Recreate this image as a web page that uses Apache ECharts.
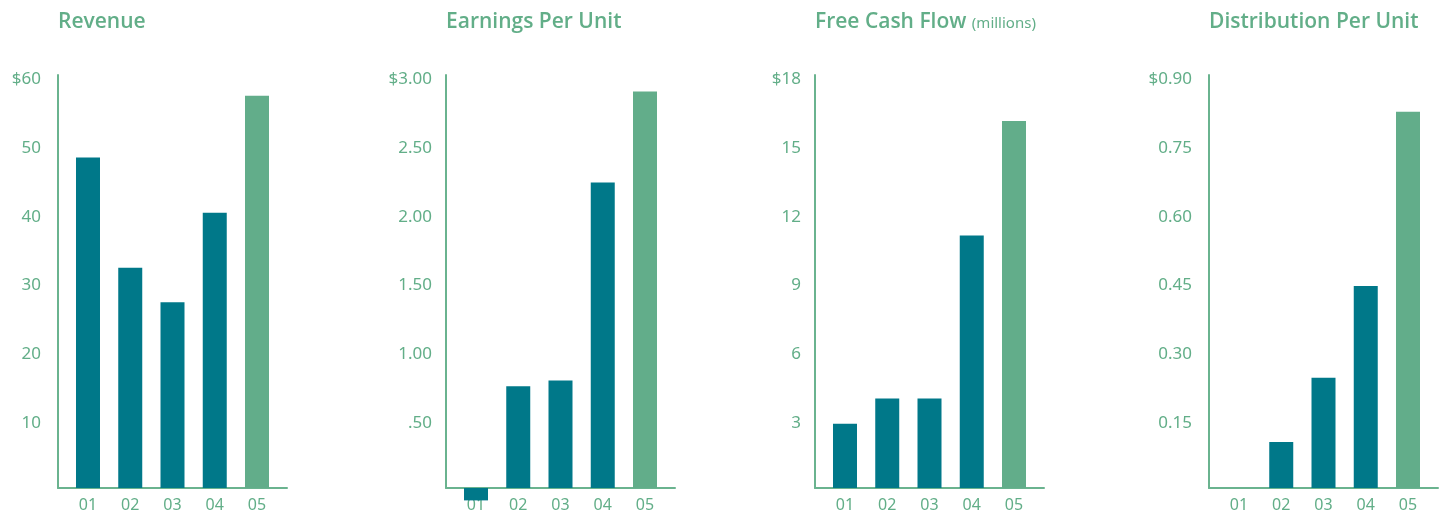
<!DOCTYPE html>
<html>
<head>
<meta charset="utf-8">
<script src="https://cdn.jsdelivr.net/npm/echarts@6/dist/echarts.min.js"></script>
<style>
  html, body { margin: 0; padding: 0; background: #ffffff; }
  #chart { width: 1444px; height: 515px; }
</style>
</head>
<body>
<div id="chart"></div>
<script>
// ---- data ----
const categories = ['01', '02', '03', '04', '05'];

const revenueValues = [48, 32, 27, 40, 57];
const epsValues = [-0.09, 0.74, 0.78, 2.22, 2.88];
const fcfValues = [2.8, 3.9, 3.9, 11.0, 16.0];
const dpuValues = [0, 0.10, 0.24, 0.44, 0.82];

const revenueTicks = ['', '10', '20', '30', '40', '50', '$60'];
const epsTicks = ['', '.50', '1.00', '1.50', '2.00', '2.50', '$3.00'];
const fcfTicks = ['', '3', '6', '9', '12', '15', '$18'];
const dpuTicks = ['', '0.15', '0.30', '0.45', '0.60', '0.75', '$0.90'];

const titles = ['Revenue', 'Earnings Per Unit', '{a|Free Cash Flow} {b|(millions)}', 'Distribution Per Unit'];

// ---- styles ----
const TEAL = '#007889';
const GREEN = '#62ad8a';
const AXIS = '#6ab38f';
const TEXT = '#62ae88';
const FONT = '"Noto Sans", "Open Sans", sans-serif';
const TFONT = '"Open Sans", "Noto Sans", sans-serif';

const panels = [
  { values: revenueValues, ticks: revenueTicks, max: 60, interval: 10, left: 58, margin: 17 },
  { values: epsValues, ticks: epsTicks, max: 3, interval: 0.5, left: 446, margin: 14 },
  { values: fcfValues, ticks: fcfTicks, max: 18, interval: 3, left: 815, margin: 14 },
  { values: dpuValues, ticks: dpuTicks, max: 0.9, interval: 0.15, left: 1209, margin: 17 }
];

const option = {
  backgroundColor: '#ffffff',
  animation: false,
  title: panels.map((p, i) => ({
    text: titles[i],
    left: p.left,
    top: 12,
    padding: 0,
    textStyle: {
      fontFamily: TFONT,
      fontSize: 21,
      fontWeight: 600,
      color: TEXT,
      rich: {
        a: { fontFamily: TFONT, fontSize: 21, fontWeight: 600, color: TEXT },
        b: { fontFamily: FONT, fontSize: 15, fontWeight: 400, color: TEXT, padding: [3, 0, 0, 0] }
      }
    }
  })),
  grid: panels.map(p => ({
    left: p.left,
    width: 229,
    top: 75,
    height: 413,
    containLabel: false
  })),
  xAxis: panels.map((p, i) => ({
    type: 'value',
    gridIndex: i,
    min: -0.71,
    max: 4.71,
    splitLine: { show: false },
    axisTick: { show: false },
    axisLine: { show: true, onZero: false, lineStyle: { color: AXIS, width: 2 } },
    axisLabel: {
      customValues: [0, 1, 2, 3, 4],
      formatter: v => categories[Math.round(v)],
      margin: 9,
      fontFamily: FONT,
      fontSize: 16,
      color: TEXT
    }
  })),
  yAxis: panels.map((p, i) => ({
    type: 'value',
    gridIndex: i,
    min: 0,
    max: p.max,
    interval: p.interval,
    splitLine: { show: false },
    axisTick: { show: false },
    axisLine: { show: true, onZero: false, lineStyle: { color: AXIS, width: 2 } },
    axisLabel: {
      formatter: v => {
        const t = p.ticks[Math.round(v / p.interval)];
        return t ? '{t|' + t + '}' : '';
      },
      margin: p.margin,
      color: TEXT,
      rich: {
        t: { fontFamily: FONT, fontSize: 17, color: TEXT, padding: [8, 0, 0, 0] }
      }
    }
  })),
  series: panels.map((p, i) => ({
    type: 'bar',
    xAxisIndex: i,
    yAxisIndex: i,
    barWidth: 24,
    clip: false,
    data: p.values.map((v, j) => [j, v]),
    itemStyle: {
      color: params => (params.dataIndex === categories.length - 1 ? GREEN : TEAL)
    }
  }))
};

const chart = echarts.init(document.getElementById('chart'), null, { renderer: 'canvas' });
chart.setOption(option);
</script>
</body>
</html>
